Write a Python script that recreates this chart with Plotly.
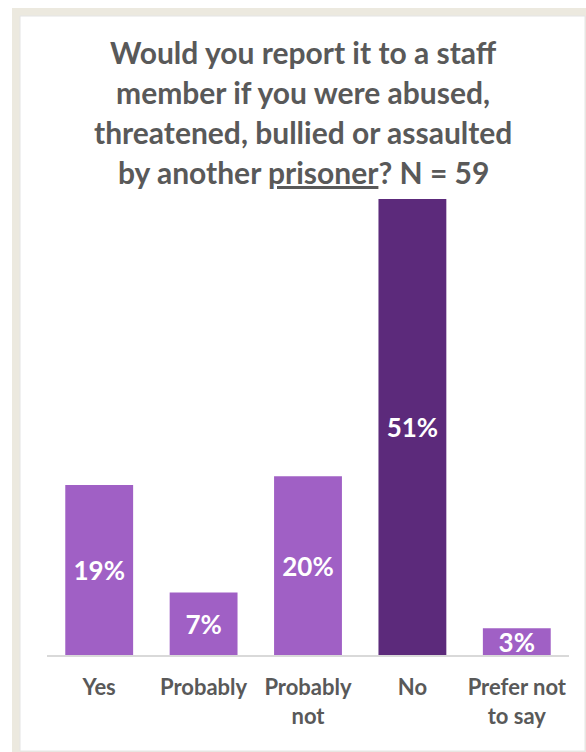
import plotly.graph_objects as go

# Survey responses (percent of N = 59)
categories = ["Yes", "Probably", "Probably<br>not", "No", "Prefer not<br>to say"]
values = [19, 7, 20, 51, 3]
bar_colors = ["#A060C5", "#A060C5", "#A060C5", "#5C2A7B", "#A060C5"]

title_lines = [
    "Would you report it to a staff",
    "member if you were abused,",
    "threatened, bullied or assaulted",
    "by another <u>prisoner</u>? N = 59",
]

W, H = 586, 752
L, R, T, B = 47, 17, 199, 97
PW, PH = W - L - R, H - T - B
FONT = "Lato"
GREY = "#595959"


def px(x):
    return (x - L) / PW


def py(y):
    return (H - B - y) / PH


fig = go.Figure(
    go.Bar(
        x=categories,
        y=values,
        marker=dict(color=bar_colors, line=dict(width=0)),
        width=0.65,
        text=[f"{v}%" for v in values],
        textposition="inside",
        insidetextanchor="middle",
        constraintext="none",
        textfont=dict(family=FONT, size=26, color="white", weight="bold"),
        cliponaxis=False,
        hoverinfo="skip",
    )
)

# card frame: beige band on top/left, thin grey edges right/bottom
shapes = [
    dict(type="rect", xref="paper", yref="paper", layer="below",
         x0=px(12), x1=px(590), y0=py(756), y1=py(8),
         fillcolor="#ECE9DF", line=dict(width=0)),
    dict(type="rect", xref="paper", yref="paper", layer="below",
         x0=px(20), x1=px(585), y0=py(751), y1=py(16),
         fillcolor="white", line=dict(color="#E4E4E4", width=1)),
]

annotations = []
for i, line in enumerate(title_lines):
    annotations.append(dict(
        text=line, xref="paper", yref="paper",
        x=px(303), y=py(52 + 40 * i), xanchor="center", yanchor="middle",
        showarrow=False,
        font=dict(family=FONT, size=30, color=GREY, weight="bold"),
    ))

fig.update_layout(
    width=W, height=H,
    margin=dict(l=L, r=R, t=T, b=B, pad=0),
    paper_bgcolor="white", plot_bgcolor="white",
    showlegend=False,
    shapes=shapes,
    annotations=annotations,
    xaxis=dict(
        showline=True, linecolor="#D9D9D9", linewidth=2,
        showgrid=False, zeroline=False,
        ticks="outside", ticklen=12, tickcolor="rgba(0,0,0,0)",
        tickfont=dict(family=FONT, size=22, color=GREY, weight="bold"),
        fixedrange=True,
    ),
    yaxis=dict(
        range=[0, 51], visible=False, showgrid=False, zeroline=False,
        fixedrange=True,
    ),
)

fig.write_html("out.html", config={"displayModeBar": False})
